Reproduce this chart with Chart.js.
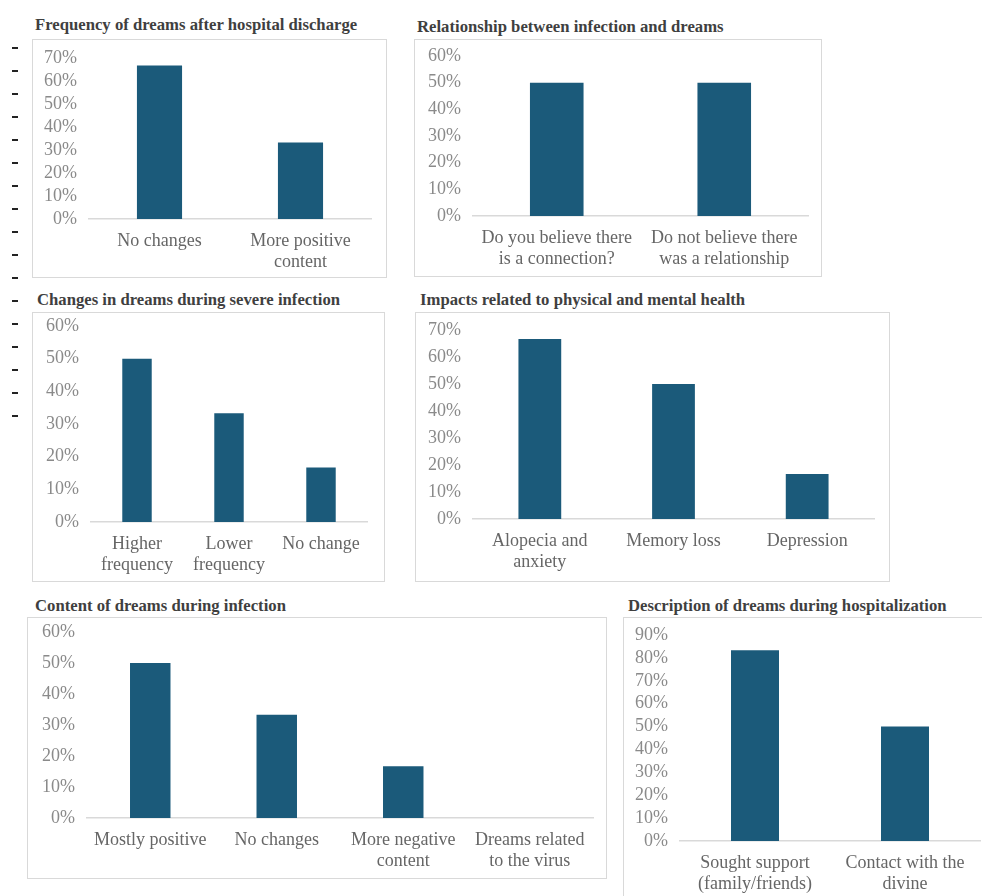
<!DOCTYPE html>
<html>
<head>
<meta charset="utf-8">
<script src="https://cdn.jsdelivr.net/npm/chart.js@4.4.1/dist/chart.umd.min.js"></script>
<style>
  html, body { margin: 0; padding: 0; background: #fff; }
  body { width: 982px; height: 896px; position: relative; overflow: hidden; }
  .box { position: absolute; border: 1px solid #d9d9d9; box-sizing: border-box; }
  .box canvas { position: absolute; left: 0; top: 0; }
  .title { position: absolute; font-family: "Liberation Serif", "Times New Roman", serif;
           font-weight: bold; font-size: 16.7px; line-height: 20px; color: #3f3f3f; white-space: nowrap; }
  .dash { position: absolute; width: 6px; height: 2px; background: #222; }
</style>
</head>
<body>
<script>
// ---- data ----
const freqLabels = ['No changes', ['More positive', 'content']];
const freqValues = [66.7, 33.3];

const relLabels = [['Do you believe there', 'is a connection?'], ['Do not believe there', 'was a relationship']];
const relValues = [50, 50];

const severeLabels = [['Higher', 'frequency'], ['Lower', 'frequency'], 'No change'];
const severeValues = [50, 33.3, 16.7];

const healthLabels = [['Alopecia and', 'anxiety'], 'Memory loss', 'Depression'];
const healthValues = [66.7, 50, 16.7];

const contentLabels = ['Mostly positive', 'No changes', ['More negative', 'content'], ['Dreams related', 'to the virus']];
const contentValues = [50, 33.3, 16.7, 0];

const hospLabels = [['Sought support', '(family/friends)'], ['Contact with the', 'divine']];
const hospValues = [83.3, 50];

// ---- layout: box rect and plot rect in page px ----
const panels = [
  { title: 'Frequency of dreams after hospital discharge', tx: 35, ty: 25,
    box: [32, 39, 387, 278], plot: [89, 58, 371, 219], max: 70, labels: freqLabels, values: freqValues },
  { title: 'Relationship between infection and dreams', tx: 417, ty: 27,
    box: [414, 39, 822, 277], plot: [473, 56, 808, 216], max: 60, labels: relLabels, values: relValues },
  { title: 'Changes in dreams during severe infection', tx: 37, ty: 300,
    box: [32, 312, 385, 582], plot: [91, 326, 367, 522], max: 60, labels: severeLabels, values: severeValues },
  { title: 'Impacts related to physical and mental health', tx: 420, ty: 300,
    box: [415, 312, 890, 582], plot: [473, 330, 874, 519], max: 70, labels: healthLabels, values: healthValues },
  { title: 'Content of dreams during infection', tx: 35, ty: 606,
    box: [27, 617, 607, 879], plot: [87, 632, 593, 818], max: 60, labels: contentLabels, values: contentValues },
  { title: 'Description of dreams during hospitalization', tx: 628, ty: 606,
    box: [623, 617, 1010, 940], plot: [680, 635, 980, 841], max: 90, labels: hospLabels, values: hospValues },
];

const barColor = '#1b5a7a';
const fontFamily = '"Liberation Serif", "Times New Roman", serif';

// stray marks down the left edge of the scan
for (let i = 0; i < 17; i++) {
  const d = document.createElement('div');
  d.className = 'dash';
  d.style.left = '12px';
  d.style.top = (47 + i * 23) + 'px';
  document.body.appendChild(d);
}

panels.forEach(p => {
  const t = document.createElement('div');
  t.className = 'title';
  t.textContent = p.title;
  t.style.left = p.tx + 'px';
  t.style.top = (p.ty - 10) + 'px';
  document.body.appendChild(t);

  const [bx0, by0, bx1, by1] = p.box;
  const w = bx1 - bx0, h = by1 - by0;
  const box = document.createElement('div');
  box.className = 'box';
  box.style.left = bx0 + 'px';
  box.style.top = by0 + 'px';
  box.style.width = w + 'px';
  box.style.height = h + 'px';
  const canvas = document.createElement('canvas');
  canvas.width = w - 2;
  canvas.height = h - 2;
  box.appendChild(canvas);
  document.body.appendChild(box);

  // canvas origin is inside the 1px border
  const [px0, py0, px1, py1] = p.plot;
  const padL = px0 - bx0 - 1, padT = py0 - by0 - 1;
  const padR = bx1 - 1 - px1, padB = by1 - 1 - py1;

  new Chart(canvas.getContext('2d'), {
    type: 'bar',
    data: {
      labels: p.labels,
      datasets: [{ data: p.values, backgroundColor: barColor, borderWidth: 0,
                   categoryPercentage: 1, barPercentage: 0.32 }]
    },
    options: {
      responsive: false,
      animation: false,
      layout: { padding: { left: 0, top: padT, right: padR, bottom: 0 } },
      plugins: { legend: { display: false }, tooltip: { enabled: false } },
      scales: {
        x: {
          grid: { display: false, drawTicks: false },
          border: { display: true, color: '#d9d9d9', width: 1.5 },
          ticks: { color: '#666666', font: { family: fontFamily, size: 18, lineHeight: 1.17 },
                   padding: 12, maxRotation: 0, autoSkip: false },
          afterFit: s => { s.height = padB; }
        },
        y: {
          min: 0, max: p.max,
          grid: { display: false, drawTicks: false },
          border: { display: false },
          ticks: { stepSize: 10, autoSkip: false, color: '#8a8a8a', padding: 12,
                   font: { family: fontFamily, size: 18, lineHeight: 1.1 },
                   callback: v => v + '%' },
          afterFit: s => { s.width = padL; s.paddingTop = 8; s.paddingBottom = 8; }
        }
      }
    }
  });
});
</script>
</body>
</html>
